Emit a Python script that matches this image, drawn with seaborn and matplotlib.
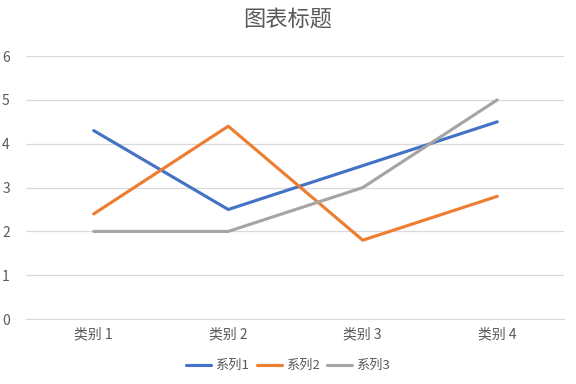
import matplotlib
matplotlib.use("Agg")
import matplotlib.pyplot as plt
import seaborn as sns
import pandas as pd

categories = ["类别 1", "类别 2", "类别 3", "类别 4"]
series_names = ["系列1", "系列2", "系列3"]
s1 = [4.3, 2.5, 3.5, 4.5]
s2 = [2.4, 4.4, 1.8, 2.8]
s3 = [2.0, 2.0, 3.0, 5.0]
colors = ["#4472C4", "#ED7D31", "#A5A5A5"]

#long form for seaborn
rows = []
for name, vals in zip(series_names, [s1, s2, s3]):
    for i, v in enumerate(vals):
        rows.append({"pos": i, "value": v, "series": name})
df = pd.DataFrame(rows)

sns.set_style("white")
plt.rcParams['font.family'] = ['Noto Sans CJK SC', 'DejaVu Sans']

fig = plt.figure(figsize=(5.76, 3.84), dpi=100)
ax = fig.add_axes([0.046, 0.169, 0.934, 0.685])

sns.lineplot(data=df, x="pos", y="value", hue="series", palette=colors,
             linewidth=2.25, ax=ax, legend=False)

ax.set_xlim(-0.5, 3.5)
ax.set_ylim(0, 6)
ax.set_yticks(range(0, 7))
ax.set_xticks(range(4))
ax.set_xticklabels(categories)
ax.set_xlabel("")
ax.set_ylabel("")
ax.yaxis.grid(True, color="#D9D9D9", linewidth=0.9)
ax.set_axisbelow(True)
for side in ["top", "right", "left"]:
    ax.spines[side].set_visible(False)
ax.spines["bottom"].set_color("#D9D9D9")
ax.tick_params(axis="both", length=0, colors="#595959", labelsize=10)
ax.tick_params(axis="y", pad=12)
ax.tick_params(axis="x", pad=6)

fig.suptitle("图表标题", x=0.5, y=0.98, fontsize=16, color="#595959")

handles = [plt.Line2D([0], [0], color=c, linewidth=2.25) for c in colors]
fig.legend(handles, series_names, loc="lower center", bbox_to_anchor=(0.5, 0.0),
           ncol=3, frameon=False, fontsize=9.5, handlelength=1.9,
           columnspacing=0.6, handletextpad=0.3, labelcolor="#595959")

fig.savefig("out.png", dpi=100)
